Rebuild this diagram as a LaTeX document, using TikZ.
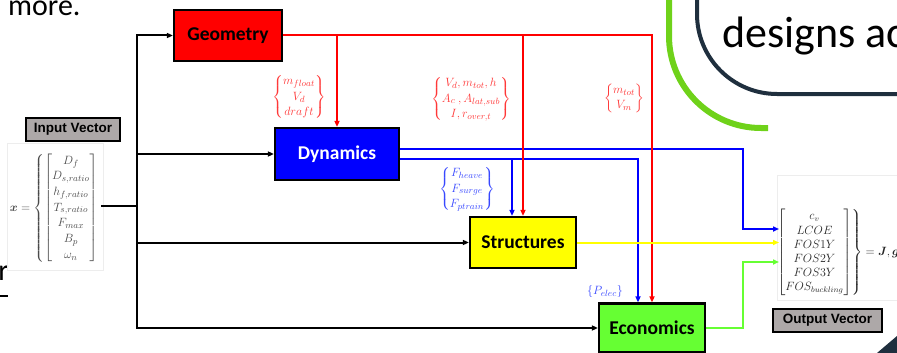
\documentclass[tikz,border=0pt]{standalone}
\usepackage{amsmath}
\usepackage{fontspec}
\setmainfont{Carlito}
\newfontfamily\arialfont{Liberation Sans}
\usetikzlibrary{arrows.meta}
\definecolor{cRed}{HTML}{FF0000}
\definecolor{cBlue}{HTML}{0000FF}
\definecolor{cYel}{HTML}{FFFF00}
\definecolor{cGrn}{HTML}{66FF33}
\definecolor{cGrey}{HTML}{ADA8A8}
\definecolor{labRed}{HTML}{FF3838}
\definecolor{labBlue}{HTML}{3848FF}
\definecolor{eqGrey}{HTML}{4A4A4A}
\definecolor{navy}{HTML}{1F2F3E}
\definecolor{slideGreen}{HTML}{6FD21A}
\begin{document}
\begin{tikzpicture}[x=1pt,y=-1pt,
  procbox/.style={draw=black, line width=2.2pt, inner sep=0pt, font=\bfseries\fontsize{19.5}{22}\selectfont},
  vecbox/.style={draw=black, line width=1.6pt, fill=cGrey, inner sep=0pt, font=\arialfont\bfseries\fontsize{13.5}{16}\selectfont},
  tip/.style={-{Triangle[length=6pt,width=5pt]}},
  blk/.style={draw=black, line width=2pt},
  redl/.style={draw=cRed, line width=2pt},
  bluel/.style={draw=cBlue, line width=2.4pt},
  yell/.style={draw=cYel, line width=2pt},
  grnl/.style={draw=cGrn, line width=2pt},
  redlab/.style={text=labRed, inner sep=0pt, font=\fontsize{12.5}{15.5}\selectfont},
  bluelab/.style={text=labBlue, inner sep=0pt, font=\fontsize{12.5}{15.5}\selectfont},
  slidetext/.style={inner sep=0pt, text=black}
]
\useasboundingbox (0,0) rectangle (897,353);
\clip (0,0) rectangle (897,353);

% slide decorations
\node[slidetext, anchor=base west, font=\fontsize{30}{34}\selectfont] (more) at (8,16) {more.};
\node[slidetext, anchor=base east, font=\fontsize{30}{34}\selectfont] (rr) at (9,280) {r};
\coordinate (ulA) at (0,296);
\coordinate (ulB) at (8,296);
\draw[line width=1.5pt] (ulA) -- (ulB);
\draw[slideGreen, line width=6pt, rounded corners=92pt] (669,-20) -- (669,128) -- (768,128);
\draw[navy, line width=4pt, rounded corners=80pt] (697,-20) -- (697,94) -- (930,94);
\node[slidetext, anchor=base west, font=\fontsize{44}{50}\selectfont] (designs) at (722,48) {designs ac};
\fill[navy] (877,353) -- (897,336) -- (897,353) -- cycle;

% faint image frames
\draw[black!7, line width=0.6pt] (7,143) rectangle (103,270);
\draw[black!7, line width=0.6pt] (777,175) rectangle (900,300);

% boxes
\node[procbox, fill=cRed, minimum width=108pt, minimum height=51pt] (geo) at (228,35.5) {Geometry};
\node[procbox, fill=cBlue, text=white, minimum width=124pt, minimum height=52pt] (dyn) at (337,154) {Dynamics};
\node[procbox, fill=cYel, minimum width=106pt, minimum height=51pt] (str) at (523,242.5) {Structures};
\node[procbox, fill=cGrn, minimum width=106pt, minimum height=49pt] (eco) at (652,328) {Economics};

\node[vecbox, minimum width=94pt, minimum height=23pt] (inlab) at (73,129.5) {Input Vector};
\node[vecbox, minimum width=109pt, minimum height=23pt] (outlab) at (827.5,320.5) {Output Vector};

% input vector
\node[anchor=east, inner sep=0pt, text=eqGrey, font=\fontsize{12.5}{15.7}\selectfont] (inx) at (99,208)
  {$\boldsymbol{x}=\left\{\left[\begin{matrix}D_f\\ D_{s,ratio}\\ h_{f,ratio}\\ T_{s,ratio}\\ F_{max}\\ B_p\\ \omega_n\end{matrix}\right]\right.$};

% output vector
\node[anchor=west, inner sep=0pt, text=black!85, font=\fontsize{11.5}{14.2}\selectfont] (outx) at (776,252.5)
  {$\left.\left[\begin{matrix}c_v\\ LCOE\\ FOS1Y\\ FOS2Y\\ FOS3Y\\ FOS_{buckling}\end{matrix}\right]\right\}=\boldsymbol{J},\boldsymbol{g}$};

% labels
\node[redlab] (lab1) at (299,97) {$\left\{\begin{matrix}m_{float}\\ V_d\\ draft\end{matrix}\right\}$};
\node[redlab] (lab2) at (471,99) {$\left\{\begin{matrix}V_d, m_{tot}, h\\ A_c\ , A_{lat,sub}\\ I, r_{over,t}\end{matrix}\right\}$};
\node[redlab] (lab3) at (624,98) {$\left\{\begin{matrix}m_{tot}\\ V_m\end{matrix}\right\}$};
\node[bluelab] (lab4) at (467,189) {$\left\{\begin{matrix}F_{heave}\\ F_{surge}\\ F_{ptrain}\end{matrix}\right\}$};
\node[bluelab] (lab5) at (605,291) {$\{P_{elec}\}$};

% coordinates
\coordinate (inR) at (101,206);
\coordinate (J) at (137,206);
\coordinate (r1) at (337,35.5);
\coordinate (r2) at (523,35.5);
\coordinate (bx) at (743,229);
\coordinate (bb) at (512,159);
\coordinate (gx) at (743,262);
\coordinate (oc) at (779,229);
\coordinate (oy) at (779,242.5);
\coordinate (og) at (779,262);

% blue connectors
\draw[bluel, tip] ([yshift=5pt]dyn.east) -| (bx) -- (oc);
\draw[bluel, tip] ([yshift=-5pt]dyn.east) -| ([xshift=-14pt]eco.north);
\draw[bluel, tip] (bb) -- ([xshift=-11pt]str.north);

% red connectors
\draw[redl, tip] (geo.east) -| (eco.north);
\draw[redl, tip] (r1) -- (dyn.north);
\draw[redl, tip] (r2) -- (str.north);

% yellow and green
\draw[yell, tip] (str.east) -- (oy);
\draw[grnl, tip] (eco.east) -| (gx) -- (og);

% black connectors
\draw[blk] (inR) -- (J);
\draw[blk, tip] (J) |- (geo.west);
\draw[blk, tip] (J) |- (dyn.west);
\draw[blk, tip] (J) |- (str.west);
\draw[blk, tip] (J) |- (eco.west);
\end{tikzpicture}
\end{document}
